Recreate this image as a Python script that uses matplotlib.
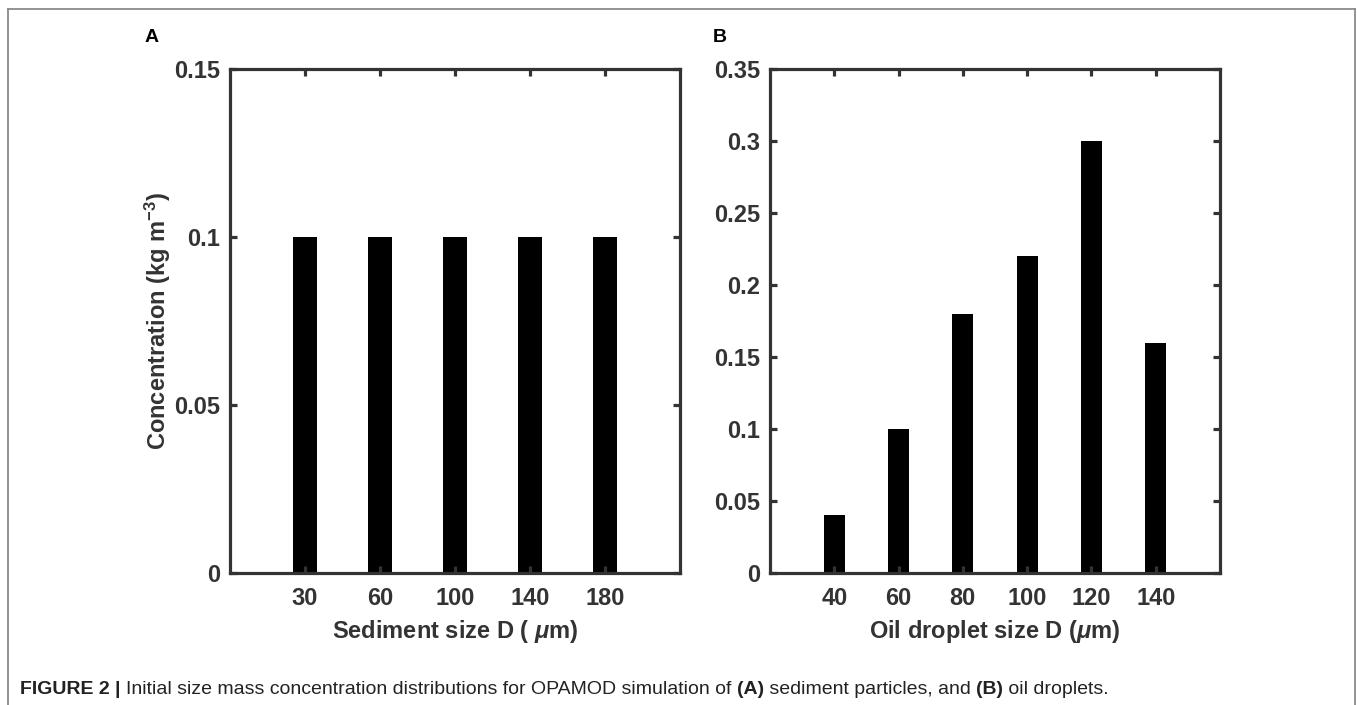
import matplotlib
matplotlib.use("Agg")
import matplotlib.pyplot as plt
from matplotlib.lines import Line2D

plt.rcParams['font.family'] = ['Liberation Sans', 'DejaVu Sans']
plt.rcParams['mathtext.fontset'] = 'custom'
plt.rcParams['mathtext.rm'] = 'Liberation Sans:bold'
plt.rcParams['mathtext.it'] = 'Liberation Sans:italic:bold'
plt.rcParams['mathtext.bf'] = 'Liberation Sans:bold'

# Data
sed_labels = ['30', '60', '100', '140', '180']
sed_values = [0.1, 0.1, 0.1, 0.1, 0.1]
oil_labels = ['40', '60', '80', '100', '120', '140']
oil_values = [0.04, 0.1, 0.18, 0.22, 0.3, 0.16]
sed_yticks = [0, 0.05, 0.1, 0.15]
sed_yticklabels = ['0', '0.05', '0.1', '0.15']
oil_yticks = [0, 0.05, 0.1, 0.15, 0.2, 0.25, 0.3, 0.35]
oil_yticklabels = ['0', '0.05', '0.1', '0.15', '0.2', '0.25', '0.3', '0.35']

W, H = 1358, 705
fig = plt.figure(figsize=(W / 100, H / 100), dpi=100)

spine_c = '#333333'

def style(ax, labels, yticks, yticklabels, ymax, xmax):
    ax.set_xlim(0, xmax)
    ax.set_ylim(0, ymax)
    ax.set_xticks(range(1, len(labels) + 1))
    ax.set_xticklabels(labels)
    ax.set_yticks(yticks)
    ax.set_yticklabels(yticklabels)
    for s in ax.spines.values():
        s.set_color(spine_c)
        s.set_linewidth(2.3)
    ax.tick_params(direction='in', length=5, width=2.3, color=spine_c,
                   top=True, right=True, labelsize=17, labelcolor=spine_c)
    ax.tick_params(axis='x', pad=10)
    ax.tick_params(axis='y', pad=7)
    for t in ax.get_xticklabels() + ax.get_yticklabels():
        t.set_fontweight('bold')

axA = fig.add_axes([230 / W, (H - 573) / H, 450 / W, 504 / H])
axA.bar(range(1, len(sed_values) + 1), sed_values, width=0.31, color='black', zorder=1)
style(axA, sed_labels, sed_yticks, sed_yticklabels, 0.15, 6)
axA.set_xlabel(r'Sediment size D ( $\mu$m)', fontsize=17, fontweight='bold', color=spine_c, labelpad=6)
axA.set_ylabel(r'Concentration (kg m$^{\mathbf{-3}}$)', fontsize=17, fontweight='bold', color=spine_c, labelpad=1)

axB = fig.add_axes([770 / W, (H - 573) / H, 450 / W, 504 / H])
axB.bar(range(1, len(oil_values) + 1), oil_values, width=0.33, color='black', zorder=1)
style(axB, oil_labels, oil_yticks, oil_yticklabels, 0.35, 7)
axB.set_xlabel(r'Oil droplet size D ($\mu$m)', fontsize=17, fontweight='bold', color=spine_c, labelpad=6)

fig.text(145 / W, 1 - 38 / H, 'A', fontsize=14, fontweight='bold', ha='left', va='center')
fig.text(713 / W, 1 - 38 / H, 'B', fontsize=14, fontweight='bold', ha='left', va='center')

# outer frame
bc = '#8a8a8a'
fig.add_artist(Line2D([8 / W, 8 / W], [0, 1 - 9 / H], transform=fig.transFigure, color=bc, lw=1.3))
fig.add_artist(Line2D([1355 / W, 1355 / W], [0, 1 - 9 / H], transform=fig.transFigure, color=bc, lw=1.3))
fig.add_artist(Line2D([8 / W, 1355 / W], [1 - 9 / H, 1 - 9 / H], transform=fig.transFigure, color=bc, lw=1.3))

# caption
parts = [("FIGURE 2 | ", 'bold'),
         ("Initial size mass concentration distributions for OPAMOD simulation of ", 'normal'),
         ("(A)", 'bold'), (" sediment particles, and ", 'normal'),
         ("(B)", 'bold'), (" oil droplets.", 'normal')]
fig.canvas.draw()
renderer = fig.canvas.get_renderer()
x = 20
y = 1 - 690 / H
for txt, wt in parts:
    t = fig.text(x / W, y, txt, fontsize=14, fontweight=wt,
                 family=['Liberation Sans', 'DejaVu Sans'],
                 ha='left', va='center', color='#222222')
    bb = t.get_window_extent(renderer=renderer)
    x += bb.width

fig.savefig('out.png', dpi=100)
